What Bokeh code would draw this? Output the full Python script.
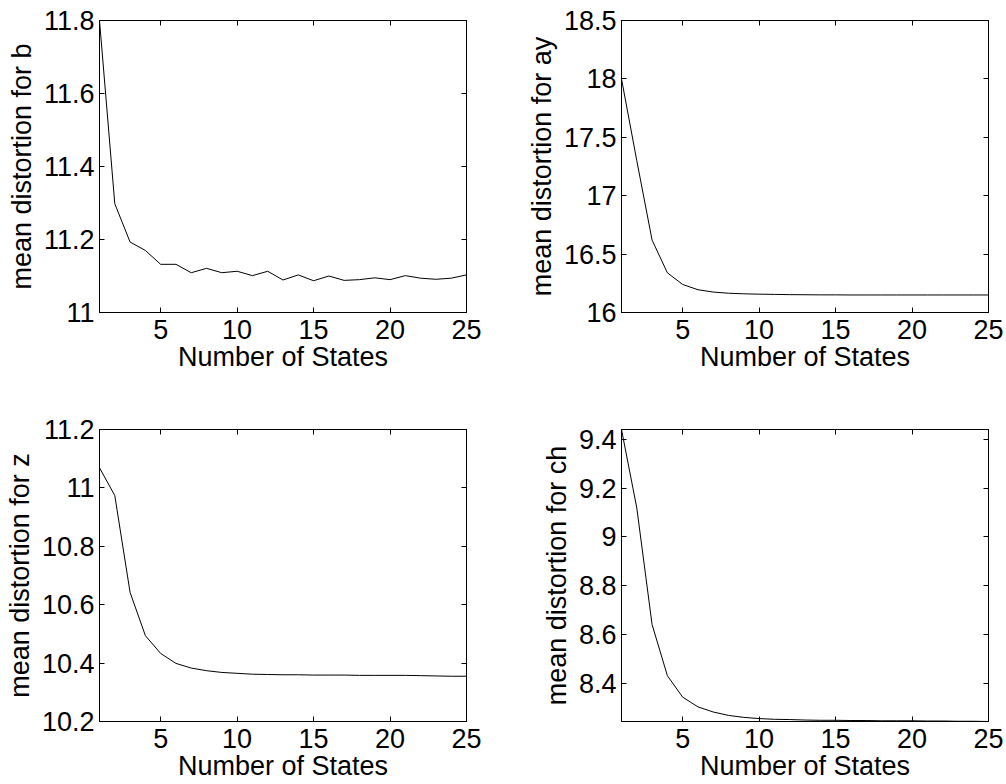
from bokeh.plotting import figure
from bokeh.layouts import column, row
from bokeh.models import Range1d, FixedTicker, LinearAxis, CustomJSTickFormatter
from bokeh.embed import file_html
from bokeh.resources import INLINE

states = list(range(1, 26))
dist_b = [11.800, 11.298, 11.193, 11.170, 11.132, 11.132, 11.109, 11.121, 11.109, 11.113,
          11.101, 11.113, 11.089, 11.103, 11.087, 11.100, 11.088, 11.090, 11.095, 11.090,
          11.101, 11.094, 11.091, 11.094, 11.103]
dist_ay = [18.00, 17.30, 16.62, 16.34, 16.24, 16.195, 16.175, 16.165, 16.16, 16.157,
           16.155, 16.153, 16.152, 16.151, 16.151, 16.15, 16.15, 16.15, 16.15, 16.15,
           16.15, 16.15, 16.15, 16.15, 16.15]
dist_z = [11.069, 10.974, 10.642, 10.494, 10.433, 10.399, 10.383, 10.374, 10.368, 10.365,
          10.362, 10.361, 10.360, 10.360, 10.359, 10.359, 10.359, 10.358, 10.358, 10.358,
          10.358, 10.357, 10.356, 10.355, 10.355]
dist_ch = [9.441, 9.119, 8.640, 8.430, 8.342, 8.302, 8.281, 8.267, 8.259, 8.254,
           8.251, 8.250, 8.248, 8.247, 8.247, 8.246, 8.246, 8.245, 8.245, 8.245,
           8.244, 8.244, 8.243, 8.243, 8.242]

x_ticks = [5, 10, 15, 20, 25]
y_ticks_b = [11, 11.2, 11.4, 11.6, 11.8]
y_ticks_ay = [16, 16.5, 17, 17.5, 18, 18.5]
y_ticks_z = [10.2, 10.4, 10.6, 10.8, 11, 11.2]
y_ticks_ch = [8.4, 8.6, 8.8, 9, 9.2, 9.4]

FONT = "Liberation Sans"
FS = "27px"

fmt_code = "return Number(tick.toFixed(3)).toString();"


def style_axis(ax, show_labels=True):
    ax.major_tick_in = 5
    ax.major_tick_out = 0
    ax.minor_tick_line_color = None
    ax.axis_line_color = "black"
    ax.major_tick_line_color = "black"
    ax.major_label_text_font = FONT
    ax.major_label_text_font_size = FS if show_labels else "0px"
    ax.major_label_text_color = "black"
    ax.axis_label_text_font = FONT
    ax.axis_label_text_font_size = FS
    ax.axis_label_text_font_style = "normal"
    ax.axis_label_text_color = "black"
    ax.formatter = CustomJSTickFormatter(code=fmt_code if show_labels else "return '';")


def make(ys, yr, yticks, ylabel, left, top, right, bottom):
    p = figure(frame_width=367, frame_height=292, output_backend="svg", toolbar_location=None,
               x_range=Range1d(1, 25), y_range=Range1d(*yr),
               min_border_left=left, min_border_top=top, min_border_right=right,
               min_border_bottom=bottom)
    p.xgrid.grid_line_color = None
    p.ygrid.grid_line_color = None
    p.outline_line_color = "black"
    p.outline_line_width = 1
    p.background_fill_color = "white"
    p.border_fill_color = "white"
    p.line(states, ys, line_color="black", line_width=1)
    p.xaxis.ticker = FixedTicker(ticks=x_ticks)
    p.yaxis.ticker = FixedTicker(ticks=yticks)
    for ax in p.xaxis:
        style_axis(ax)
        ax.axis_label = "Number of States"
        ax.major_label_standoff = 7
        ax.axis_label_standoff = 0
    for ax in p.yaxis:
        style_axis(ax)
        ax.axis_label = ylabel
        ax.major_label_standoff = 5
        ax.axis_label_standoff = 4
    ra = LinearAxis(ticker=FixedTicker(ticks=yticks))
    style_axis(ra, show_labels=False)
    ra.major_label_standoff = 0
    p.add_layout(ra, "right")
    ta = LinearAxis(ticker=FixedTicker(ticks=x_ticks))
    style_axis(ta, show_labels=False)
    ta.major_label_standoff = 0
    p.add_layout(ta, "above")
    return p


p1 = make(dist_b, (11.0, 11.8), y_ticks_b, "mean distortion for b", 99, 20, 37, 80)
p2 = make(dist_ay, (16.0, 18.5), y_ticks_ay, "mean distortion for ay", 118, 20, 18, 80)
p3 = make(dist_z, (10.2, 11.2), y_ticks_z, "mean distortion for z", 99, 37, 37, 63)
p4 = make(dist_ch, (8.242, 9.441), y_ticks_ch, "mean distortion for ch", 118, 36, 18, 64)

layout = column(row(p1, p2), row(p3, p4))

open("out.html", "w").write(file_html(layout, INLINE))
